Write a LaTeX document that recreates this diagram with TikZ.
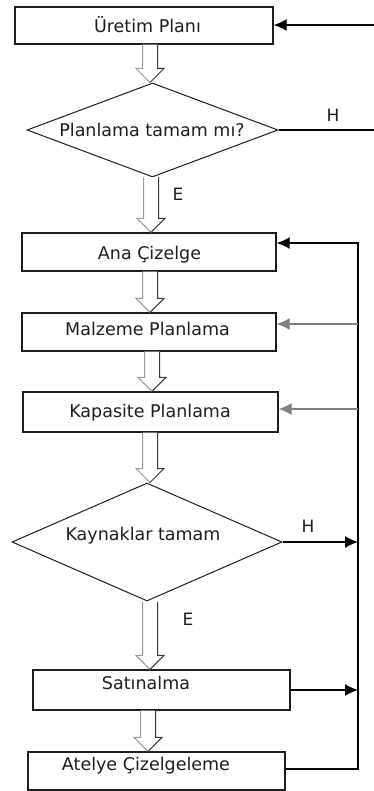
\documentclass[tikz,border=0pt]{standalone}
\usepackage{fontspec}
\setmainfont{DejaVu Sans}
\usetikzlibrary{shapes.geometric,arrows.meta,calc}

\definecolor{inkc}{HTML}{1E1E1E}
\definecolor{shaftl}{HTML}{9A9A9A}
\definecolor{shaftr}{HTML}{3A3A3A}

% Hollow block arrow from the bottom of one node to the top of the next
\newcommand\hollowdown[3]{%
  \path let \p1=(#2.south), \p2=(#3.north) in
    [fill=white] ({#1-7.5},\y1) -- ({#1-7.5},{\y2+14pt}) -- ({#1-14},{\y2+14pt})
      -- (#1,\y2) -- ({#1+14},{\y2+14pt}) -- ({#1+7.5},{\y2+14pt}) -- ({#1+7.5},\y1) -- cycle;
  \draw[shaftl,line width=1pt] let \p1=(#2.south), \p2=(#3.north) in
    ({#1-7.5},\y1) -- ({#1-7.5},{\y2+14pt}) -- ({#1-14},{\y2+14pt}) -- (#1,\y2);
  \draw[shaftr,line width=1pt] let \p1=(#2.south), \p2=(#3.north) in
    ({#1+7.5},\y1) -- ({#1+7.5},{\y2+14pt}) -- ({#1+14},{\y2+14pt}) -- (#1,\y2);
}

\tikzset{
  box/.style={draw=inkc, line width=1.4pt, fill=white, minimum height=38pt, inner sep=0pt},
  decision/.style={diamond, draw=inkc, line width=1pt, fill=white, inner sep=0pt},
  txt/.style={text=inkc, font=\fontsize{17.5}{20}\selectfont, inner sep=0pt},
  lbl/.style={text=inkc, font=\fontsize{17}{20}\selectfont, inner sep=0pt},
  conn/.style={draw=black, line width=1.2pt},
  feed/.style={draw=gray, line width=1.2pt},
  tip/.style={-{Latex[length=13pt,width=12pt]}},
}

\begin{document}
\begin{tikzpicture}[x=1pt,y=-1pt]
\useasboundingbox (0,0) rectangle (374,791);

% process boxes
\node[box, minimum width=258pt, minimum height=37pt] (ure) at (144,25.5) {};
\node[txt] (ureT) at (147.5,25) {Üretim Planı};

\node[decision, minimum width=251pt, minimum height=94pt, aspect=2.67] (d1) at (152.5,130) {};
\node[txt] (d1T) at (152,130) {Planlama tamam mı?};

\node[box, minimum width=254pt] (ana) at (149,252) {};
\node[txt] (anaT) at (149.5,255) {Ana Çizelge};

\node[box, minimum width=254pt] (mal) at (149,332) {};
\node[txt] (malT) at (147.5,329) {Malzeme Planlama};

\node[box, minimum width=255pt, minimum height=40pt] (kap) at (150.5,412) {};
\node[txt] (kapT) at (150,413) {Kapasite Planlama};

\node[decision, minimum width=270pt, minimum height=118pt, aspect=2.29] (d2) at (147,542) {};
\node[txt] (d2T) at (143,536) {Kaynaklar tamam};

\node[box, minimum width=257pt, minimum height=40pt] (sat) at (161.5,690) {};
\node[txt] (satT) at (146,683) {Satınalma};

\node[box, minimum width=257pt] (ate) at (156.5,771) {};
\node[txt] (ateT) at (146,766) {Atelye Çizelgeleme};

% main flow
\hollowdown{150}{ure}{d1}
\hollowdown{151}{d1}{ana}
\hollowdown{150}{ana}{mal}
\hollowdown{152}{mal}{kap}
\hollowdown{150}{kap}{d2}
\hollowdown{150}{d2}{sat}
\hollowdown{148}{sat}{ate}

% labels on the branches
\node[lbl] (h1) at (333,115) {H};
\node[lbl] (e1) at (178,194) {E};
\node[lbl] (h2) at (308,526) {H};
\node[lbl] (e2) at (188,619) {E};

% return into the production plan
\coordinate (inR) at (374,25);
\coordinate (outR) at (374,130);
\draw[conn,tip] (inR) -- (ure.east |- inR);
\draw[conn] (d1.east) -- (outR);

% feedback bus on the right
\coordinate (busTop) at (358,243);
\coordinate (busBot) at (358,769);
\draw[conn,tip] (ate.east |- busBot) -- (busBot) -- (busTop) -- (ana.east |- busTop);
\coordinate (busMal) at (358,324);
\coordinate (busKap) at (358,409);
\draw[feed,tip] (busMal) -- (mal.east |- busMal);
\draw[feed,tip] (busKap) -- (kap.east |- busKap);
\draw[conn,tip] (d2.east) -- (d2.east -| busTop);
\coordinate (busSat) at (358,690);
\draw[conn,tip] (sat.east |- busSat) -- (busSat);
\end{tikzpicture}
\end{document}
